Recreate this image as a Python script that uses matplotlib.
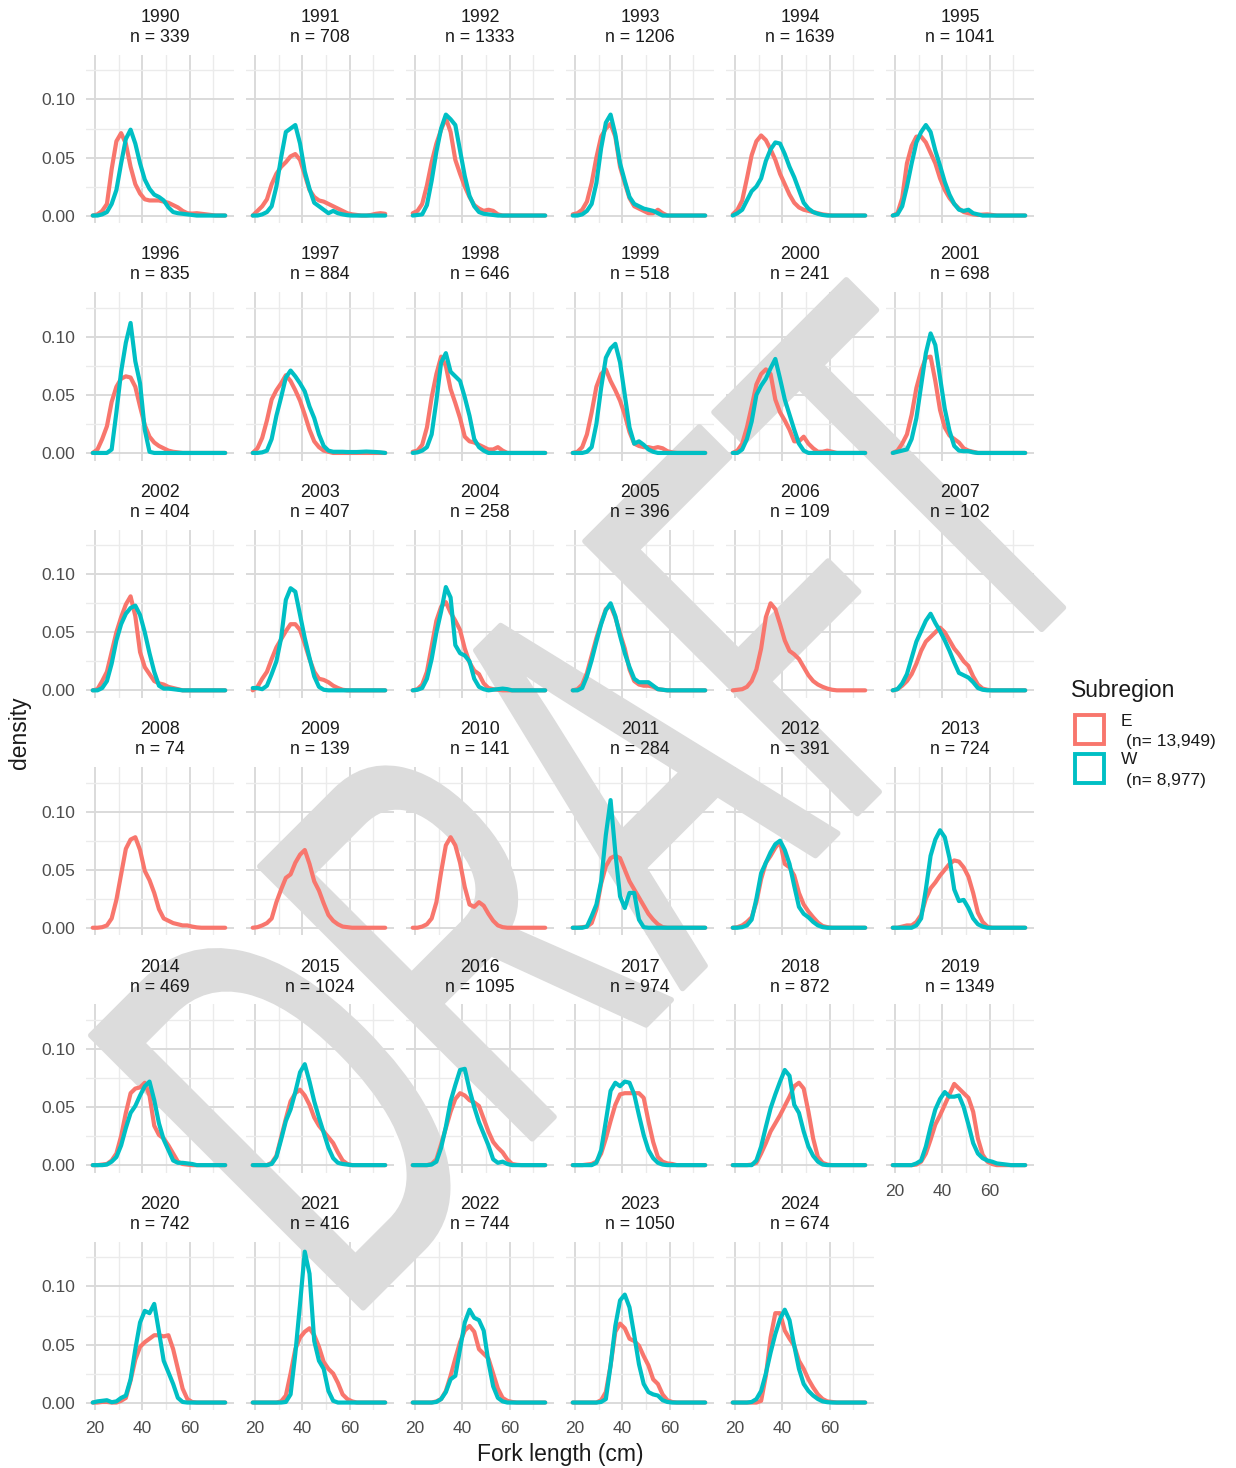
import matplotlib
matplotlib.use("Agg")
import matplotlib.pyplot as plt
from matplotlib.textpath import TextPath
from matplotlib.patches import PathPatch, Rectangle
from matplotlib.font_manager import FontProperties
from matplotlib.transforms import Affine2D, IdentityTransform

plt.rcParams['font.family'] = ['Liberation Sans', 'DejaVu Sans']

years = [1990, 1991, 1992, 1993, 1994, 1995,
         1996, 1997, 1998, 1999, 2000, 2001,
         2002, 2003, 2004, 2005, 2006, 2007,
         2008, 2009, 2010, 2011, 2012, 2013,
         2014, 2015, 2016, 2017, 2018, 2019,
         2020, 2021, 2022, 2023, 2024]
n_fish = [339, 708, 1333, 1206, 1639, 1041,
          835, 884, 646, 518, 241, 698,
          404, 407, 258, 396, 109, 102,
          74, 139, 141, 284, 391, 724,
          469, 1024, 1095, 974, 872, 1349,
          742, 416, 744, 1050, 674]

fork_len = [19, 21, 23, 25, 27, 29, 31, 33, 35, 37, 39, 41, 43, 45, 47,
            49, 51, 53, 55, 57, 59, 61, 63, 65, 67, 69, 71, 73, 75]

# density, subregion E (one list per year)
dens_E = [
    [0, .001, .004, .010, .040, .064, .071, .062, .042, .027, .019, .014, .013, .013, .013, .012, .011, .009, .007, .004, .002, .0017, .002, .0015, .001, .0005, 0, 0, 0],
    [0, .004, .008, .014, .027, .036, .042, .046, .051, .053, .048, .035, .022, .016, .013, .012, .010, .008, .006, .004, .002, .001, .0005, 0, 0, .0005, .0015, .002, .0015],
    [.002, .004, .010, .026, .046, .062, .074, .084, .072, .048, .036, .025, .016, .009, .006, .004, .005, .004, .001, 0, 0, 0, 0, 0, 0, 0, 0, 0, 0],
    [.001, .002, .005, .012, .028, .050, .068, .075, .079, .068, .042, .028, .015, .008, .006, .004, .002, .002, .005, .002, 0, 0, 0, 0, 0, 0, 0, 0, 0],
    [.001, .005, .013, .032, .052, .064, .069, .065, .057, .048, .036, .027, .018, .011, .007, .005, .004, .003, .002, .001, .0005, 0, 0, 0, 0, 0, 0, 0, 0],
    [0, .002, .015, .045, .060, .068, .068, .063, .054, .045, .032, .022, .015, .010, .006, .003, .002, .001, .0005, .0008, .001, .0005, 0, 0, 0, 0, 0, 0, 0],
    [0, .003, .012, .023, .044, .057, .064, .066, .065, .057, .040, .024, .014, .009, .006, .004, .002, .001, .0005, 0, 0, 0, 0, 0, 0, 0, 0, 0, 0],
    [0, .004, .013, .028, .046, .054, .060, .067, .062, .054, .045, .033, .020, .010, .005, .002, .001, 0, 0, 0, 0, 0, 0, 0, 0, 0, 0, 0, 0],
    [.001, .002, .007, .022, .048, .068, .083, .075, .055, .043, .030, .014, .010, .009, .007, .005, .003, .003, .005, .002, 0, 0, 0, 0, 0, 0, 0, 0, 0],
    [0, .001, .005, .016, .035, .057, .068, .072, .062, .054, .045, .033, .018, .008, .006, .005, .005, .004, .005, .004, .0015, .0005, 0, 0, 0, 0, 0, 0, 0],
    [0, .002, .008, .022, .040, .059, .068, .072, .068, .046, .035, .028, .020, .010, .010, .014, .008, .004, .001, .001, .002, .001, 0, 0, 0, 0, 0, 0, 0],
    [0, .002, .008, .016, .033, .056, .071, .082, .083, .062, .037, .022, .015, .012, .009, .004, .002, .001, 0, 0, 0, 0, 0, 0, 0, 0, 0, 0, 0],
    [0, .001, .008, .016, .033, .050, .063, .074, .081, .064, .033, .020, .014, .008, .006, .005, .003, .002, .001, 0, 0, 0, 0, 0, 0, 0, 0, 0, 0],
    [0, .003, .010, .016, .027, .037, .044, .051, .057, .057, .052, .040, .027, .016, .010, .009, .007, .004, .002, .0005, 0, 0, 0, 0, 0, 0, 0, 0, 0],
    [0, .001, .005, .016, .038, .060, .072, .076, .067, .060, .052, .036, .024, .017, .014, .006, .002, .001, .0005, 0, 0, 0, 0, 0, 0, 0, 0, 0, 0],
    [0, .001, .005, .015, .030, .045, .058, .070, .073, .063, .049, .036, .018, .008, .005, .004, .004, .003, .001, .0005, 0, 0, 0, 0, 0, 0, 0, 0, 0],
    [0, .0005, .001, .003, .008, .018, .036, .063, .075, .070, .057, .043, .034, .031, .027, .020, .013, .008, .005, .003, .0015, .0005, 0, 0, 0, 0, 0, 0, 0],
    [0, .001, .004, .008, .014, .023, .034, .042, .046, .050, .054, .050, .043, .036, .031, .025, .021, .012, .005, .0015, .0005, 0, 0, 0, 0, 0, 0, 0, 0],
    [0, 0, .0005, .002, .008, .024, .046, .068, .076, .078, .067, .049, .041, .030, .016, .008, .006, .004, .003, .002, .002, .001, .0003, 0, 0, 0, 0, 0, 0],
    [0, .0005, .002, .004, .008, .022, .033, .043, .046, .056, .063, .067, .055, .040, .032, .021, .011, .006, .003, .001, .0005, 0, 0, 0, 0, 0, 0, 0, 0],
    [0, 0, .001, .003, .008, .022, .048, .071, .078, .071, .056, .035, .020, .018, .022, .019, .012, .006, .002, .0005, 0, 0, 0, 0, 0, 0, 0, 0, 0],
    [0, 0, .0005, .001, .004, .016, .038, .053, .060, .062, .060, .050, .040, .033, .026, .019, .012, .007, .003, .0005, 0, 0, 0, 0, 0, 0, 0, 0, 0],
    [0, .0005, .002, .005, .009, .022, .042, .056, .062, .069, .074, .055, .052, .045, .030, .020, .014, .009, .0045, .0015, .0005, 0, 0, 0, 0, 0, 0, 0, 0],
    [0, 0, .001, .002, .002, .005, .011, .025, .034, .039, .045, .050, .055, .058, .057, .052, .044, .030, .013, .005, .001, 0, 0, 0, 0, 0, 0, 0, 0],
    [0, 0, .0005, .001, .004, .010, .025, .045, .062, .066, .067, .071, .060, .034, .026, .023, .017, .010, .003, .001, .0005, 0, 0, 0, 0, 0, 0, 0, 0],
    [0, 0, 0, 0, .002, .008, .024, .040, .055, .062, .065, .060, .052, .041, .034, .029, .024, .019, .011, .004, .001, 0, 0, 0, 0, 0, 0, 0, 0],
    [0, 0, 0, 0, .001, .005, .018, .032, .046, .057, .062, .060, .056, .054, .051, .040, .029, .020, .015, .011, .005, .001, .0003, 0, 0, 0, 0, 0, 0],
    [0, 0, 0, .0005, .001, .003, .010, .023, .038, .052, .061, .062, .062, .062, .062, .058, .038, .020, .007, .003, .0015, .001, 0, 0, 0, 0, 0, 0, 0],
    [0, 0, 0, 0, .0005, .002, .010, .019, .029, .036, .043, .051, .059, .068, .071, .066, .046, .023, .007, .002, .0005, 0, 0, 0, 0, 0, 0, 0, 0],
    [0, 0, 0, 0, 0, .0005, .003, .010, .022, .035, .043, .052, .061, .070, .066, .062, .058, .046, .023, .009, .003, .001, 0, 0, 0, 0, 0, 0, 0],
    [0, 0, .0005, .0005, 0, 0, .0015, .004, .019, .037, .048, .052, .055, .058, .058, .057, .058, .046, .029, .012, .003, .0005, 0, 0, 0, 0, 0, 0, 0],
    [0, 0, 0, 0, 0, 0, .001, .006, .025, .046, .056, .061, .064, .058, .048, .035, .029, .025, .017, .007, .003, .001, 0, 0, 0, 0, 0, 0, 0],
    [0, 0, 0, 0, 0, .001, .003, .010, .023, .038, .052, .062, .066, .061, .046, .042, .038, .025, .012, .004, .0015, .0005, 0, 0, 0, 0, 0, 0, 0],
    [0, 0, 0, 0, 0, 0, .002, .009, .032, .061, .068, .064, .055, .053, .049, .040, .032, .020, .016, .007, .002, .0005, 0, 0, 0, 0, 0, 0, 0],
    [0, 0, 0, 0, 0, 0, .0015, .023, .056, .077, .077, .062, .055, .049, .036, .029, .020, .013, .007, .003, .001, .0005, 0, 0, 0, 0, 0, 0, 0],
]

# density, subregion W (None = no W fish that year)
dens_W = [
    [0, 0, .001, .003, .010, .022, .045, .066, .074, .062, .045, .031, .023, .018, .016, .013, .007, .003, .002, .0015, .001, .0005, 0, 0, 0, 0, 0, 0, 0],
    [0, 0, .001, .003, .008, .025, .050, .072, .075, .078, .062, .038, .023, .011, .008, .005, .002, .004, .002, .001, .0003, 0, 0, 0, 0, 0, 0, 0, 0],
    [0, .0005, .001, .009, .030, .055, .075, .087, .083, .078, .056, .034, .017, .008, .003, .0015, .001, .0005, 0, 0, 0, 0, 0, 0, 0, 0, 0, 0, 0],
    [0, 0, .001, .004, .010, .028, .058, .080, .087, .070, .045, .030, .016, .010, .008, .006, .005, .004, .002, 0, 0, 0, 0, 0, 0, 0, 0, 0, 0],
    [0, .002, .005, .013, .021, .025, .032, .047, .057, .063, .062, .053, .042, .033, .022, .011, .006, .003, .0015, .0005, 0, 0, 0, 0, 0, 0, 0, 0, 0],
    [0, .001, .008, .025, .045, .063, .072, .078, .072, .056, .043, .029, .018, .010, .005, .004, .005, .002, .001, 0, 0, 0, 0, 0, 0, 0, 0, 0, 0],
    [0, 0, 0, 0, .003, .035, .070, .095, .112, .079, .060, .020, .001, 0, 0, 0, 0, 0, 0, 0, 0, 0, 0, 0, 0, 0, 0, 0, 0],
    [0, 0, .0005, .002, .012, .032, .048, .065, .071, .066, .060, .053, .040, .030, .016, .006, .002, .001, .001, .001, .0008, .0008, .0008, .001, .0012, .001, .0008, .0005, 0],
    [0, .0005, .002, .005, .016, .045, .078, .086, .070, .066, .062, .048, .032, .012, .005, .002, 0, 0, 0, 0, 0, 0, 0, 0, 0, 0, 0, 0, 0],
    [0, 0, 0, .001, .005, .025, .056, .082, .090, .094, .078, .050, .022, .008, .010, .007, .003, .001, 0, 0, 0, 0, 0, 0, 0, 0, 0, 0, 0],
    [0, 0, .003, .012, .027, .050, .058, .064, .073, .081, .064, .046, .033, .020, .008, .002, 0, 0, 0, 0, 0, 0, 0, 0, 0, 0, 0, 0, 0],
    [0, .001, .002, .003, .012, .030, .058, .086, .103, .093, .065, .038, .019, .006, .002, .0015, .0015, .0005, 0, 0, 0, 0, 0, 0, 0, 0, 0, 0, 0],
    [0, 0, .002, .008, .023, .043, .057, .066, .071, .073, .065, .050, .032, .016, .004, .0015, .0015, .001, .0005, 0, 0, 0, 0, 0, 0, 0, 0, 0, 0],
    [.002, .002, .001, .004, .014, .025, .045, .078, .088, .085, .065, .045, .028, .012, .003, .0005, 0, 0, 0, 0, 0, 0, 0, 0, 0, 0, 0, 0, 0],
    [0, .0005, .002, .010, .027, .050, .068, .089, .080, .039, .032, .030, .025, .010, .003, .001, 0, .0005, .001, .0015, .001, 0, 0, 0, 0, 0, 0, 0, 0],
    [0, 0, .002, .012, .026, .042, .057, .069, .075, .064, .047, .032, .020, .010, .007, .007, .007, .004, .001, .0005, 0, 0, 0, 0, 0, 0, 0, 0, 0],
    None,
    [0, .001, .006, .014, .028, .042, .051, .060, .066, .058, .051, .043, .034, .024, .015, .013, .011, .007, .002, .0005, 0, 0, 0, 0, 0, 0, 0, 0, 0],
    None,
    None,
    None,
    [0, 0, 0, .001, .010, .020, .040, .080, .110, .065, .027, .017, .030, .030, .007, .0005, 0, 0, 0, 0, 0, 0, 0, 0, 0, 0, 0, 0, 0],
    [0, 0, .0005, .002, .007, .025, .047, .056, .065, .072, .075, .067, .055, .036, .018, .012, .009, .005, .002, .0005, 0, 0, 0, 0, 0, 0, 0, 0, 0],
    [0, 0, 0, 0, 0, .002, .008, .033, .062, .076, .084, .078, .060, .033, .023, .024, .017, .008, .003, .001, 0, 0, 0, 0, 0, 0, 0, 0, 0],
    [0, 0, 0, .0005, .003, .007, .017, .032, .045, .051, .060, .068, .072, .056, .036, .022, .013, .004, .002, .002, .0015, .001, 0, 0, 0, 0, 0, 0, 0],
    [0, 0, 0, 0, .001, .007, .022, .038, .048, .063, .080, .087, .072, .055, .041, .028, .015, .006, .002, .001, .0005, 0, 0, 0, 0, 0, 0, 0, 0],
    [0, 0, 0, 0, .0005, .003, .015, .033, .055, .069, .082, .083, .065, .050, .037, .027, .017, .005, .002, .003, .001, 0, 0, 0, 0, 0, 0, 0, 0],
    [0, 0, 0, 0, 0, .002, .013, .038, .064, .071, .068, .072, .071, .061, .043, .026, .013, .006, .002, .0005, 0, 0, 0, 0, 0, 0, 0, 0, 0],
    [0, 0, 0, 0, 0, .004, .016, .033, .049, .061, .072, .082, .077, .052, .045, .029, .016, .008, .003, .0005, 0, 0, 0, 0, 0, 0, 0, 0, 0],
    [0, 0, 0, 0, 0, .0015, .004, .016, .033, .048, .057, .063, .059, .059, .060, .050, .035, .019, .010, .006, .004, .003, .0015, .001, .0005, 0, 0, 0, 0],
    [0, .001, .0015, .002, .0003, .001, .004, .006, .020, .046, .069, .079, .077, .085, .061, .036, .026, .016, .004, .0005, 0, 0, 0, 0, 0, 0, 0, 0, 0],
    [0, 0, 0, 0, 0, 0, 0, .0005, .007, .042, .085, .130, .111, .053, .036, .029, .010, .0015, 0, 0, 0, 0, 0, 0, 0, 0, 0, 0, 0],
    [0, 0, 0, 0, 0, .0005, .003, .009, .020, .023, .046, .069, .080, .073, .071, .062, .035, .014, .004, .001, 0, 0, 0, 0, 0, 0, 0, 0, 0],
    [0, 0, 0, 0, 0, 0, .0005, .003, .032, .066, .088, .093, .082, .058, .033, .016, .009, .007, .006, .002, .0005, 0, 0, 0, 0, 0, 0, 0, 0],
    [0, 0, 0, 0, .0005, .003, .010, .025, .043, .059, .072, .080, .071, .049, .029, .016, .010, .006, .003, .001, .0003, 0, 0, 0, 0, 0, 0, 0, 0],
]

col_E = '#F8766D'
col_W = '#00BFC4'
region_labels = ['E', 'W']
region_n = ['13,949', '8,977']

W, H = 1236, 1468
fig = plt.figure(figsize=(W / 100, H / 100), dpi=100)

pw, ph = 148.3, 168.5   # panel size in px
for i, yr in enumerate(years):
    r, c = divmod(i, 6)
    left = 86 + 160 * c
    top = 54.7 + 237.4 * r
    rect = [left / W, 1 - (top + ph) / H, pw / W, ph / H]

    # background axes: grid only (under the watermark)
    bg = fig.add_axes(rect, zorder=0)
    # foreground axes: curves and tick labels (over the watermark)
    fg = fig.add_axes(rect, zorder=2)
    for a in (bg, fg):
        a.set_xlim(16.15, 78.85)
        a.set_ylim(-0.0066, 0.1386)
        a.set_xticks([20, 40, 60])
        a.set_xticks([30, 50, 70], minor=True)
        a.set_yticks([0, 0.05, 0.10])
        a.set_yticks([0.025, 0.075, 0.125], minor=True)
        for s in a.spines.values():
            s.set_visible(False)
        a.tick_params(which='both', length=0)
    bg.grid(which='major', color='#DADADA', lw=1.4)
    bg.grid(which='minor', color='#EBEBEB', lw=1.0)
    bg.tick_params(labelbottom=False, labelleft=False)
    fg.set_facecolor('none')

    fg.plot(fork_len, dens_E[i], color=col_E, lw=3.0, solid_capstyle='round', solid_joinstyle='round')
    if dens_W[i] is not None:
        fg.plot(fork_len, dens_W[i], color=col_W, lw=3.0, solid_capstyle='round', solid_joinstyle='round')

    fg.tick_params(labelsize=12.5, labelcolor='#4D4D4D')
    fg.tick_params(axis='y', pad=8)
    fg.tick_params(axis='x', pad=8)
    fg.set_yticklabels(['0.00', '0.05', '0.10'])
    if c != 0:
        fg.tick_params(labelleft=False)
    if i + 6 < len(years):
        fg.tick_params(labelbottom=False)

    cx = (left + pw / 2) / W
    fig.text(cx, 1 - (17.5 + 237.4 * r) / H, str(yr), ha='center', va='center',
             fontsize=12.8, color='#1A1A1A')
    fig.text(cx, 1 - (37.5 + 237.4 * r) / H, 'n = %d' % n_fish[i], ha='center', va='center',
             fontsize=12.8, color='#1A1A1A')

# DRAFT watermark, condensed and rotated
tp = TextPath((0, 0), 'DRAFT', size=1, prop=FontProperties(family='Liberation Sans'))
tr = Affine2D().scale(331, 560).rotate_deg(45).translate(344, 141)
wm = PathPatch(tr.transform_path(tp), facecolor='#DCDCDC', edgecolor='#DCDCDC', lw=4,
               joinstyle='round', transform=IdentityTransform(), zorder=1)
fig.add_artist(wm)

# axis titles
fig.text(560 / W, 1 - 1455 / H, 'Fork length (cm)', ha='center', va='center', fontsize=16.5, color='#1A1A1A')
fig.text(20 / W, 1 - 733 / H, 'density', ha='center', va='center', rotation=90, fontsize=16.5, color='#1A1A1A')

# legend
fig.text(1071 / W, 1 - 690 / H, 'Subregion', ha='left', va='center', fontsize=16.5, color='#1A1A1A')
for k, (lab, nn, col) in enumerate(zip(region_labels, region_n, [col_E, col_W])):
    y0 = 715 + 39 * k
    fig.add_artist(Rectangle((1075 / W, 1 - (y0 + 29) / H), 29 / W, 29 / H, transform=fig.transFigure,
                             fill=False, edgecolor=col, lw=2.8, zorder=3))
    fig.text(1121 / W, 1 - (y0 + 6) / H, lab, ha='left', va='center', fontsize=12.5, color='#1A1A1A')
    fig.text(1126 / W, 1 - (y0 + 26) / H, '(n= %s)' % nn, ha='left', va='center', fontsize=12.5, color='#1A1A1A')

fig.savefig('out.png', dpi=100, facecolor='white')
